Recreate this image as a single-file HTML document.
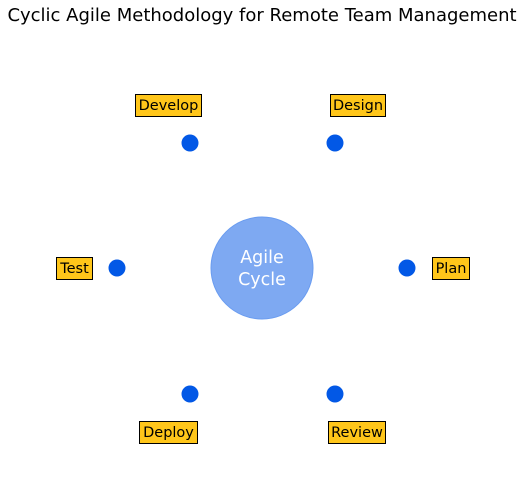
<!DOCTYPE html>
<html><head><style>body{margin:0;background:#fff}</style></head><body>
<svg width="524" height="493" xmlns="http://www.w3.org/2000/svg" font-family="DejaVu Sans, sans-serif">
<rect width="524" height="493" fill="#fff"/>
<text x="262" y="21" font-size="18" text-anchor="middle" fill="#000">Cyclic Agile Methodology for Remote Team Management</text>
<circle cx="262" cy="268" r="51" fill="#7ea9f2" stroke="#6a9cf0" stroke-width="1"/>
<text x="262" y="263" font-size="17.5" text-anchor="middle" fill="#fff">Agile</text>
<text x="262" y="285" font-size="17.5" text-anchor="middle" fill="#fff">Cycle</text>
<g fill="#0258e6">
<circle cx="190" cy="143" r="8.5"/><circle cx="335" cy="143" r="8.5"/>
<circle cx="117" cy="268" r="8.5"/><circle cx="407" cy="268" r="8.5"/>
<circle cx="190" cy="394" r="8.5"/><circle cx="335" cy="394" r="8.5"/>
</g>
<g fill="#ffc61a" stroke="#000" stroke-width="1">
<rect x="135.5" y="94.5" width="66" height="22"/>
<rect x="330.5" y="94.5" width="55" height="22"/>
<rect x="56.5" y="257.5" width="36" height="22"/>
<rect x="432.5" y="257.5" width="37" height="22"/>
<rect x="139.5" y="421.5" width="58" height="22"/>
<rect x="328.5" y="421.5" width="57" height="22"/>
</g>
<g font-size="14.5" text-anchor="middle" fill="#000">
<text x="168.5" y="110">Develop</text>
<text x="358" y="110">Design</text>
<text x="74.5" y="273">Test</text>
<text x="451" y="273">Plan</text>
<text x="168.5" y="437">Deploy</text>
<text x="357" y="437">Review</text>
</g>
</svg>
</body></html>
